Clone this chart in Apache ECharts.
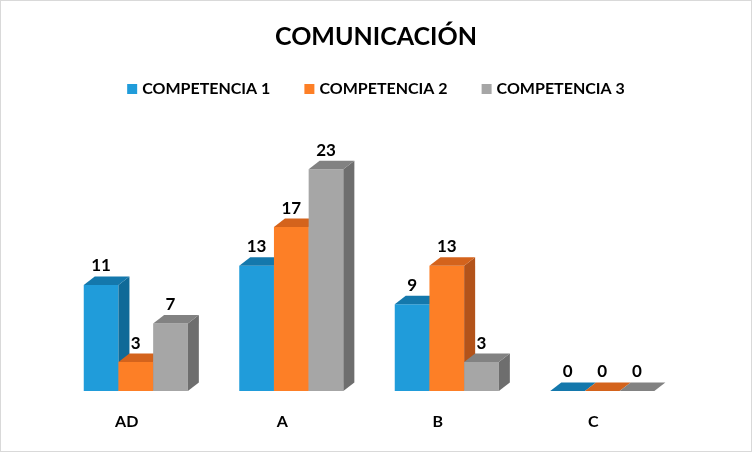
<!DOCTYPE html>
<html>
<head>
<meta charset="utf-8">
<script src="https://cdn.jsdelivr.net/npm/echarts@6/dist/echarts.min.js"></script>
<style>
  html, body { margin: 0; padding: 0; background: #fff; }
  #chart { width: 752px; height: 452px; box-sizing: border-box; border: 1px solid #d9d9d9; }
</style>
</head>
<body>
<div id="chart"></div>
<script>
const categories = ['AD', 'A', 'B', 'C'];
const seriesNames = ['COMPETENCIA 1', 'COMPETENCIA 2', 'COMPETENCIA 3'];
const comp1 = [11, 13, 9, 0];
const comp2 = [3, 17, 13, 0];
const comp3 = [7, 23, 3, 0];

// front / top / side colours for each series
const faces = [
  { front: '#209cda', top: '#1478ac', side: '#0f6a98' },
  { front: '#fd7f26', top: '#d4631c', side: '#b3531a' },
  { front: '#a6a6a6', top: '#828282', side: '#6e6e6e' }
];

const FONT = 'Lato';
const BAR_W = 34.7;
const DX = 11;
const DY = 8.5;

const chart = echarts.init(document.getElementById('chart'));

function makeRender(s) {
  const c = faces[s];
  return function (params, api) {
    const idx = api.value(0);
    const val = api.value(1);
    const base = api.coord([idx, 0]);
    const top = api.coord([idx, val]);
    const x0 = base[0] - 43 + s * BAR_W;
    const x1 = x0 + BAR_W;
    const yb = base[1];
    const yt = top[1];
    return {
      type: 'group',
      children: [
        {
          type: 'rect',
          shape: { x: x0, y: yt, width: BAR_W, height: yb - yt },
          style: { fill: c.front }
        },
        {
          type: 'polygon',
          shape: { points: [[x1, yt], [x1 + DX, yt - DY], [x1 + DX, yb - DY], [x1, yb]] },
          style: { fill: c.side }
        },
        {
          type: 'polygon',
          shape: { points: [[x0, yt], [x1, yt], [x1 + DX, yt - DY], [x0 + DX, yt - DY]] },
          style: { fill: c.top }
        },
        {
          type: 'text',
          style: {
            text: String(val),
            x: x0 + BAR_W / 2,
            y: yt - 19,
            align: 'center',
            verticalAlign: 'middle',
            fontFamily: FONT,
            fontWeight: 'bold',
            fontSize: 17,
            fill: '#000'
          }
        }
      ]
    };
  };
}

const seriesData = [comp1, comp2, comp3];

chart.setOption({
  backgroundColor: '#fff',
  animation: false,
  title: {
    text: 'COMUNICACIÓN',
    left: 'center',
    top: 18,
    textStyle: { fontFamily: FONT, fontWeight: 'bold', fontSize: 25, color: '#000' }
  },
  legend: {
    top: 75,
    left: 'center',
    itemWidth: 10,
    itemHeight: 10,
    itemGap: 34,
    icon: 'rect',
    textStyle: { fontFamily: FONT, fontWeight: 'bold', fontSize: 16, color: '#000' },
    data: seriesNames
  },
  grid: { left: 48, right: 80, top: 149, bottom: 60 },
  xAxis: {
    type: 'category',
    data: categories,
    axisLine: { show: false },
    axisTick: { show: false },
    axisLabel: { margin: 23, fontFamily: FONT, fontWeight: 'bold', fontSize: 16, color: '#000' }
  },
  yAxis: {
    type: 'value',
    min: 0,
    max: 25,
    show: false,
    splitLine: { show: false }
  },
  series: seriesNames.map((name, s) => ({
    name: name,
    type: 'custom',
    itemStyle: { color: faces[s].front },
    renderItem: makeRender(s),
    data: seriesData[s].map((v, i) => [i, v])
  }))
});
</script>
</body>
</html>
